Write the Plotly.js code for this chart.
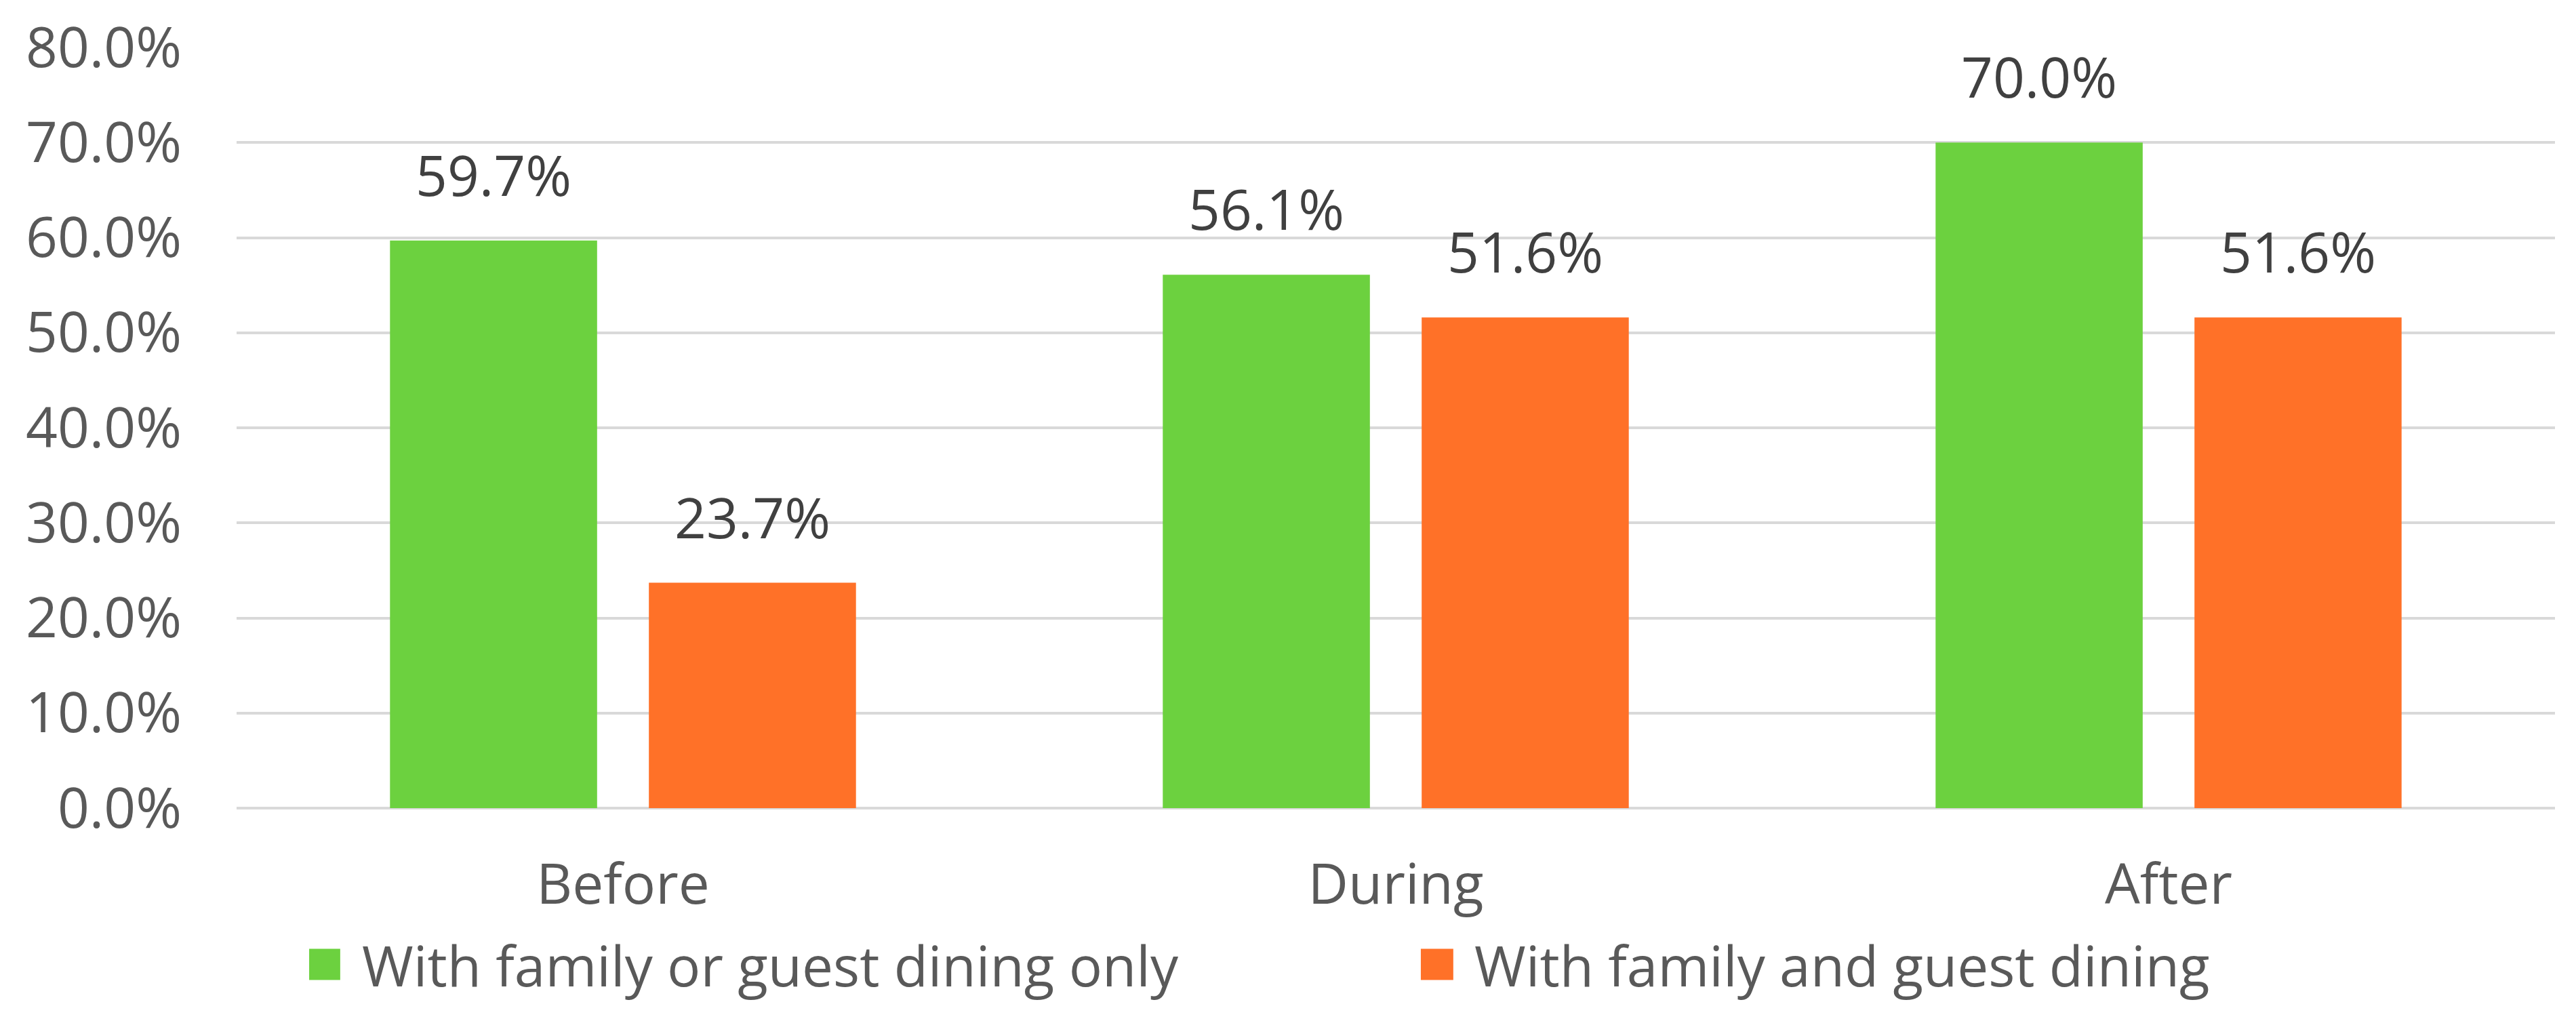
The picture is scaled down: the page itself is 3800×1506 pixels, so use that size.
<!DOCTYPE html>
<html>
<head>
<meta charset="utf-8">
<script src="https://cdn.plot.ly/plotly-3.0.1.min.js"></script>
<style>html,body{margin:0;padding:0;background:#fff;}</style>
</head>
<body>
<div id="chart" style="width:3800px;height:1506px;"></div>
<script>
// Data
var categories = ["Before", "During", "After"];
var seriesNames = ["With family or guest dining only", "With family and guest dining"];
var familyOrGuestOnly = [0.597, 0.561, 0.700];
var familyAndGuest = [0.237, 0.516, 0.516];
var colors = ["#6CD13F", "#FF7128"];

var FONT = "Open Sans, Noto Sans, sans-serif";
var FS = 82;
var bargap = 0.33, bargroupgap = 0.2;

var seriesValues = [familyOrGuestOnly, familyAndGuest];
var traces = seriesValues.map(function (vals, k) {
  return {
    type: "bar",
    name: seriesNames[k],
    x: categories,
    y: vals,
    marker: {color: colors[k]},
    showlegend: false,
    hoverinfo: "x+y"
  };
});

// Data labels above bars, positioned from the data through the axes
var slot = (1 - bargap) / 2;
var annotations = [];
seriesValues.forEach(function (vals, k) {
  var off = (k - 0.5) * slot;
  vals.forEach(function (v, i) {
    annotations.push({
      xref: "x", yref: "y",
      x: i + off, y: v,
      text: (v * 100).toFixed(1) + "%",
      showarrow: false,
      yanchor: "middle", xanchor: "center",
      yshift: 98,
      font: {family: FONT, size: FS, color: "#404040"}
    });
  });
});

// Legend (manual, to match large square keys)
var legendPos = [{sx0: 0.0313, sx1: 0.0447, tx: 0.0536}, {sx0: 0.5108, sx1: 0.5248, tx: 0.5333}];
var shapes = [];
seriesNames.forEach(function (name, k) {
  shapes.push({
    type: "rect", xref: "paper", yref: "paper",
    x0: legendPos[k].sx0, x1: legendPos[k].sx1, y0: -0.185, y1: -0.226,
    fillcolor: colors[k], line: {width: 0}
  });
  annotations.push({
    xref: "paper", yref: "paper", x: legendPos[k].tx, y: -0.2055,
    xanchor: "left", yanchor: "middle", showarrow: false,
    text: name, font: {family: FONT, size: FS, color: "#595959"}
  });
});

var layout = {
  width: 3800, height: 1506, autosize: false,
  margin: {l: 349, r: 31, t: 70, b: 314, pad: 0},
  paper_bgcolor: "#ffffff", plot_bgcolor: "#ffffff",
  barmode: "group", bargap: bargap, bargroupgap: bargroupgap,
  font: {family: FONT, size: FS, color: "#595959"},
  xaxis: {
    type: "category",
    showgrid: false, showline: false, zeroline: false,
    ticks: "", ticklabelstandoff: 58,
    tickfont: {family: FONT, size: FS, color: "#595959"}
  },
  yaxis: {
    range: [0, 0.8], dtick: 0.1, tick0: 0,
    tickformat: ".1%",
    showgrid: true, gridcolor: "#D9D9D9", gridwidth: 4,
    zeroline: true, zerolinecolor: "#D9D9D9", zerolinewidth: 4,
    showline: false, ticks: "", ticklabelstandoff: 80,
    tickfont: {family: FONT, size: FS, color: "#595959"}
  },
  showlegend: false,
  annotations: annotations,
  shapes: shapes
};

Plotly.newPlot("chart", traces, layout, {staticPlot: true, displayModeBar: false});
</script>
</body>
</html>
